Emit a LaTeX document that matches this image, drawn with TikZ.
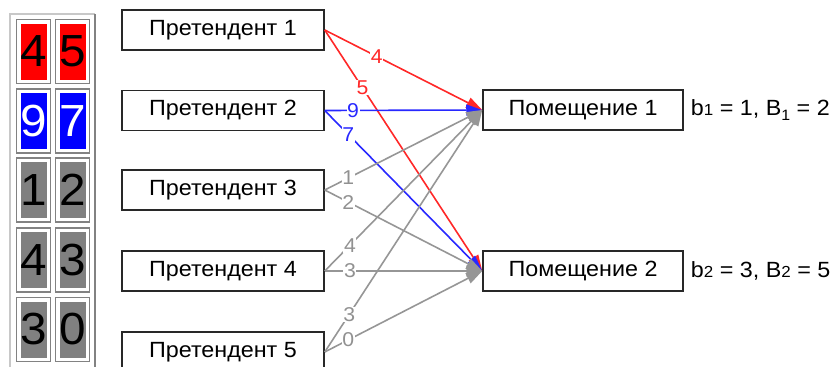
\documentclass[tikz,border=0pt]{standalone}
\usepackage{fontspec}
\setmainfont{Liberation Sans}[FakeStretch=1.06]
\usetikzlibrary{arrows.meta}

\definecolor{edgered}{RGB}{255,40,40}
\definecolor{edgeblue}{RGB}{40,40,255}
\definecolor{edgegray}{RGB}{150,150,150}
\definecolor{lblgray}{RGB}{145,145,145}
\definecolor{boxline}{RGB}{40,40,40}
\definecolor{framelight}{RGB}{200,200,200}
\definecolor{framedark}{RGB}{130,130,130}
\definecolor{cellgray}{RGB}{128,128,128}

\begin{document}
\begin{tikzpicture}[x=1pt,y=-1pt,
  box/.style={draw=boxline, line width=1.5pt, fill=white, inner sep=0pt,
    minimum width=202pt, minimum height=40pt,
    font=\fontsize{22}{26}\selectfont},
  room/.style={box, minimum width=200pt},
  info/.style={anchor=west, inner sep=0pt, font=\fontsize{22}{26}\selectfont},
  edge/.style={line width=1.6pt, -{Triangle[length=16pt,width=11pt]}},
  lbl/.style={fill=white, inner sep=0.6pt, font=\fontsize{20}{20}\selectfont},
  cell/.style={draw=framedark, line width=1.2pt, fill=white, inner sep=0pt,
    minimum width=34pt, minimum height=64pt,
    font=\fontsize{45}{45}\selectfont,
    path picture={\fill[#1]
      ([xshift=4pt,yshift=-4pt]path picture bounding box.north west) rectangle
      ([xshift=-4pt,yshift=4pt]path picture bounding box.south east);}},
]
\useasboundingbox (0,0) rectangle (839,367);

% table frame on the left
\draw[framelight, line width=1.2pt] (10,380) -- (10,14) -- (95,14);
\draw[framedark, line width=1.2pt] (95,14) -- (95,380);

% table cells
\node[cell=red]       (c11) at (33.5,51.5)  {4};
\node[cell=red]       (c12) at (72.5,51.5)  {5};
\node[cell=blue, text=white] (c21) at (33.5,121)   {9};
\node[cell=blue, text=white] (c22) at (72.5,121)   {7};
\node[cell=cellgray]  (c31) at (33.5,190)   {1};
\node[cell=cellgray]  (c32) at (72.5,190)   {2};
\node[cell=cellgray]  (c41) at (33.5,260)   {4};
\node[cell=cellgray]  (c42) at (72.5,260)   {3};
\node[cell=cellgray]  (c51) at (33.5,329.5) {3};
\node[cell=cellgray]  (c52) at (72.5,329.5) {0};

% applicants
\node[box] (p1) at (223,30)  {Претендент 1};
\node[box] (p2) at (223,110.5) {Претендент 2};
\node[box] (p3) at (223,190) {Претендент 3};
\node[box] (p4) at (223,271) {Претендент 4};
\node[box] (p5) at (223,352) {Претендент 5};

% rooms
\node[room] (r1) at (583,110) {Помещение 1};
\node[room] (r2) at (583,271) {Помещение 2};

% room capacities
\node[info] (i1) at ([xshift=7pt]r1.east)
  {b{\fontsize{16}{16}\selectfont 1} = 1, B\raisebox{-5pt}{\fontsize{15}{15}\selectfont 1} = 2};
\node[info] (i2) at ([xshift=7pt]r2.east)
  {b{\fontsize{16}{16}\selectfont 2} = 3, B{\fontsize{16}{16}\selectfont 2} = 5};

% red edges
\draw[edge, edgered] (p1.east) -- node[lbl, pos=0.33, text=edgered] {4} (r1.west);
\draw[edge, edgered] (p1.east) -- node[lbl, pos=0.24, text=edgered] {5} (r2.west);
% blue edges
\draw[edge, edgeblue] (p2.east) -- node[lbl, pos=0.18, text=edgeblue] {9} (r1.west);
\draw[edge, edgeblue] (p2.east) -- node[lbl, pos=0.15, text=edgeblue] {7} (r2.west);
% gray edges
\draw[edge, edgegray] (p3.east) -- node[lbl, pos=0.15, text=lblgray] {1} (r1.west);
\draw[edge, edgegray] (p3.east) -- node[lbl, pos=0.15, text=lblgray] {2} (r2.west);
\draw[edge, edgegray] (p4.east) -- node[lbl, pos=0.16, text=lblgray] {4} (r1.west);
\draw[edge, edgegray] (p4.east) -- node[lbl, pos=0.16, text=lblgray] {3} (r2.west);
\draw[edge, edgegray] (p5.east) -- node[lbl, pos=0.155, text=lblgray] {3} (r1.west);
\draw[edge, edgegray] (p5.east) -- node[lbl, pos=0.15, text=lblgray] {0} (r2.west);
\end{tikzpicture}
\end{document}
